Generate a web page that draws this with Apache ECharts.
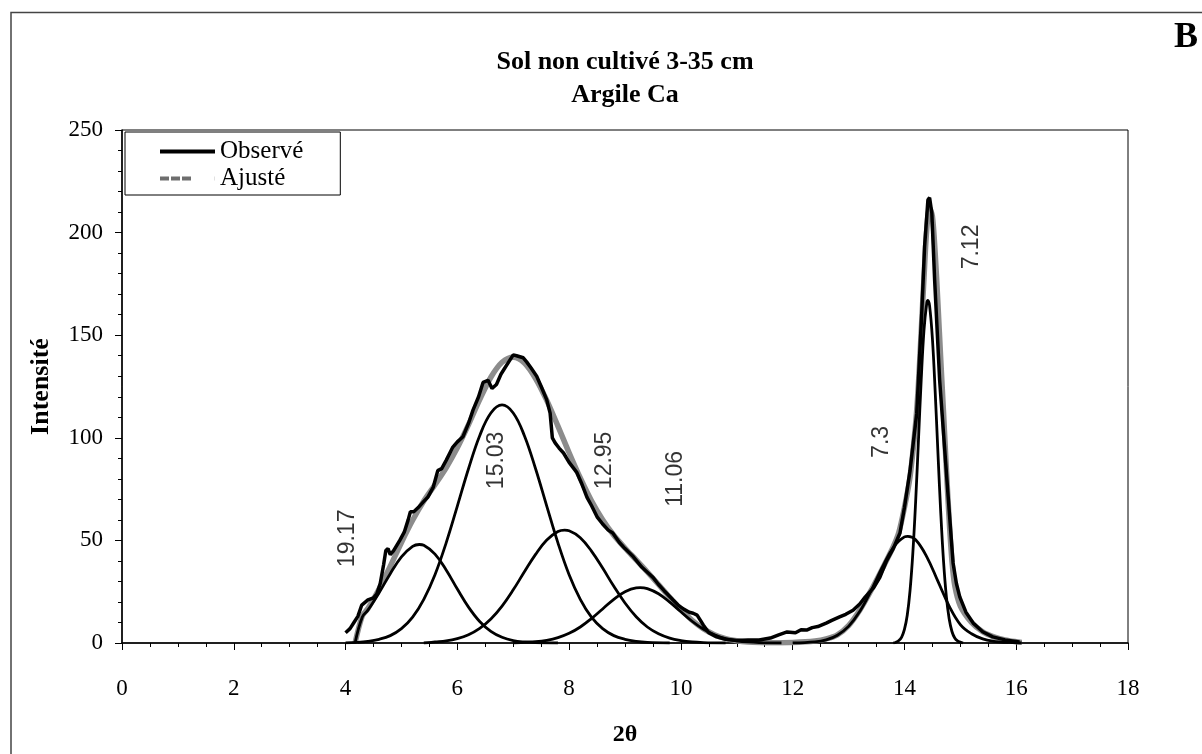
<!DOCTYPE html>
<html><head><meta charset="utf-8">
<script src="https://cdn.jsdelivr.net/npm/echarts@6/dist/echarts.min.js"></script>
<style>html,body{margin:0;padding:0;background:#fff}#c{width:1202px;height:754px}</style>
</head><body><div id="c"></div>
<script>
// ---- data (2θ, intensité) ----
const observed = [[4.0,5],[4.08,7],[4.15,10],[4.22,13],[4.29,18.5],[4.4,21],[4.5,22],[4.56,24],[4.62,29],[4.68,38],[4.72,45],[4.76,46],[4.8,43],[4.86,45],[4.97,50],[5.05,54],[5.12,60],[5.16,64],[5.22,64],[5.3,66],[5.4,69],[5.47,71],[5.57,76],[5.65,84],[5.72,85],[5.8,89],[5.92,95.5],[6.0,98],[6.1,100.5],[6.2,107],[6.28,113.5],[6.38,120],[6.46,127],[6.55,128],[6.62,124],[6.7,126],[6.78,131],[6.85,134],[6.92,137],[7.0,140.4],[7.06,140],[7.12,139.5],[7.18,139],[7.24,137],[7.32,134],[7.42,130],[7.5,125],[7.6,118.5],[7.66,112],[7.7,100],[7.75,97.5],[7.82,95],[7.9,92.6],[8.0,88],[8.14,83],[8.22,78],[8.32,71],[8.4,67],[8.5,61.5],[8.6,58],[8.7,55],[8.78,53.6],[8.9,49],[9.0,46],[9.15,42],[9.3,37],[9.4,34.5],[9.5,32],[9.6,28.5],[9.7,25.5],[9.86,21],[9.95,18.5],[10.05,16.5],[10.15,15],[10.22,14.5],[10.29,13.6],[10.35,11],[10.4,8.8],[10.5,5],[10.64,3],[10.8,1.8],[11.0,1.2],[11.2,1.5],[11.4,1.5],[11.6,2.4],[11.75,4],[11.9,5.4],[12.05,5],[12.15,6.5],[12.25,6.3],[12.35,7.5],[12.45,8],[12.6,9.7],[12.7,11],[12.84,12.7],[12.95,14],[13.08,16],[13.2,19],[13.3,22.5],[13.45,27],[13.56,32],[13.68,40],[13.8,46],[13.92,53.6],[14.0,66],[14.1,84],[14.22,112],[14.31,161],[14.36,193],[14.42,216],[14.45,217],[14.49,209.5],[14.54,177],[14.63,128],[14.76,79.5],[14.87,39],[14.93,29],[14.99,22.5],[15.1,15],[15.23,9.7],[15.4,5.5],[15.58,3],[15.8,1.5],[16.06,0.5]];

const fitted = [[4.17,0],[4.3,13.2],[4.4,16.8],[4.6,26.3],[4.8,37.4],[5.0,49.0],[5.2,59.8],[5.4,69.2],[5.6,77.1],[5.8,85.4],[6.0,95.1],[6.2,106.4],[6.4,118.6],[6.6,129.5],[6.8,136.8],[7.0,139.3],[7.2,136.5],[7.4,128.9],[7.6,118.2],[7.8,105.7],[8.0,92.7],[8.2,80.4],[8.4,69.3],[8.6,60.1],[8.8,52.5],[9.0,46.3],[9.2,40.5],[9.4,34.6],[9.6,28.5],[9.8,22.3],[10.0,16.4],[10.2,11.1],[10.4,7.0],[10.6,4.0],[10.8,2.1],[11.0,1.1],[11.2,0.5],[11.4,0.2],[11.6,0.1],[12.0,0.3],[12.4,1],[12.6,2],[12.8,4],[13.0,8.5],[13.2,16],[13.4,25.5],[13.6,36],[13.8,47],[13.9,54],[14.0,66],[14.1,81],[14.2,107],[14.25,126],[14.3,152],[14.35,178],[14.4,202],[14.45,212],[14.5,208],[14.55,190],[14.6,165],[14.65,138],[14.7,112],[14.75,85],[14.8,60],[14.85,40],[14.9,28],[15.0,18],[15.2,10],[15.4,5.5],[15.6,3],[15.8,1.5],[16.0,0.6],[16.1,0.3]];

const peak1917 = [[4.17,0],[4.3,12.7],[4.4,16.0],[4.6,24.5],[4.8,33.8],[5.0,42.0],[5.2,47.1],[5.32,48],[5.4,47.6],[5.6,43.3],[5.8,35.6],[6.0,26.3],[6.2,17.5],[6.4,10.5],[6.6,5.7],[6.8,2.8],[7.0,1.2],[7.2,0.5],[7.4,0.2],[7.8,0]];
const peak1503 = [[4.0,0.1],[4.2,0.3],[4.4,0.8],[4.6,1.8],[4.8,3.6],[5.0,7.0],[5.2,12.6],[5.4,21.3],[5.6,33.3],[5.8,48.8],[6.0,66.7],[6.2,84.9],[6.4,101.0],[6.6,112.1],[6.8,116],[7.0,112.1],[7.2,101.0],[7.4,84.9],[7.6,66.7],[7.8,48.8],[8.0,33.3],[8.2,21.3],[8.4,12.6],[8.6,7.0],[8.8,3.6],[9.0,1.8],[9.2,0.8],[9.4,0.3],[9.8,0]];
const peak1295 = [[5.4,0],[5.6,0.5],[5.8,1.0],[6.0,2.1],[6.2,4.0],[6.4,7.1],[6.6,11.7],[6.8,18.0],[7.0,25.9],[7.2,34.7],[7.4,43.2],[7.6,50.2],[7.8,54.3],[7.92,55],[8.0,54.7],[8.2,51.3],[8.4,44.8],[8.6,36.5],[8.8,27.6],[9.0,19.5],[9.2,12.8],[9.4,7.8],[9.6,4.5],[9.8,2.4],[10.0,1.2],[10.2,0.5],[10.4,0.2],[10.8,0]];
const peak1106 = [[7.0,0],[7.2,0.3],[7.4,0.6],[7.6,1.3],[7.8,2.6],[8.0,4.7],[8.2,7.8],[8.4,11.9],[8.6,16.6],[8.8,21.3],[9.0,25.0],[9.2,26.9],[9.27,27],[9.4,26.5],[9.6,24.0],[9.8,19.9],[10.0,15.2],[10.2,10.6],[10.4,6.8],[10.6,4.0],[10.8,2.1],[11.0,1.1],[11.2,0.5],[11.4,0.2],[11.8,0]];
const peak73 = [[12.0,0],[12.4,0.5],[12.6,1.5],[12.8,3.8],[13.0,8.1],[13.2,15.3],[13.4,25.3],[13.6,36.7],[13.8,46.5],[14.0,51.7],[14.06,52],[14.2,50.3],[14.4,42],[14.6,30],[14.8,18],[15.0,9],[15.2,4.5],[15.4,2],[15.6,0.8],[15.8,0.3],[16.1,0]];
const peak712 = [[13.8,0],[13.85,0.4],[13.9,1.2],[13.95,2.9],[14.0,6.6],[14.05,13.5],[14.1,25.5],[14.15,43.8],[14.2,68.7],[14.25,98.3],[14.3,128.3],[14.35,152.6],[14.4,165.8],[14.42,167],[14.45,164.3],[14.5,148.5],[14.55,122.5],[14.6,92.2],[14.65,63.3],[14.7,39.6],[14.75,22.6],[14.8,11.8],[14.85,5.6],[14.9,2.4],[14.95,1.0],[15.0,0.4],[15.05,0]];

const peakLabels = ['19.17','15.03','12.95','11.06','7.3','7.12'];
const peakLabelPos = [[4.03,51],[6.71,89],[8.64,89],[9.91,80],[13.6,98],[15.2,193]];

const titleLines = ['Sol non cultivé 3-35 cm','Argile Ca'];
const panelLetter = 'B';
const xName = '2θ', yName = 'Intensité';
const seriesNames = ['Observé','Ajusté'];

const serif = 'Liberation Serif, Times New Roman, serif';
const chart = echarts.init(document.getElementById('c'), null, {renderer:'canvas'});

const compStyle = {color:'#000', width:2.8};
const comps = [peak1917, peak1503, peak1295, peak1106, peak73, peak712].map((d,i)=>({
  type:'line', name:'comp'+i, data:d, smooth:0.4, symbol:'none', z:3,
  lineStyle:compStyle, itemStyle:{color:'#000'}, silent:true
}));

chart.setOption({
  animation:false,
  backgroundColor:'#fff',
  grid:{left:122, right:74, top:130, bottom:111, show:true, borderColor:'#000', borderWidth:1},
  xAxis:{type:'value', min:0, max:18, interval:2,
    name:xName, nameLocation:'middle', nameGap:80,
    nameTextStyle:{fontFamily:serif, fontWeight:'bold', fontSize:24, color:'#000'},
    axisLine:{show:true, onZero:false, lineStyle:{color:'#000', width:1.5}},
    axisTick:{show:true, inside:false, length:7, lineStyle:{color:'#000', width:1}},
    minorTick:{show:true, splitNumber:4, length:4, lineStyle:{color:'#000', width:1}},
    splitLine:{show:false},
    axisLabel:{margin:34, fontFamily:serif, fontSize:23, color:'#000'}},
  yAxis:{type:'value', min:0, max:250, interval:50,
    name:yName, nameLocation:'middle', nameGap:68, nameRotate:90,
    nameTextStyle:{fontFamily:serif, fontWeight:'bold', fontSize:26, color:'#000'},
    axisLine:{show:true, lineStyle:{color:'#000', width:1.5}},
    axisTick:{show:true, inside:false, length:7, lineStyle:{color:'#000', width:1}},
    minorTick:{show:true, splitNumber:5, length:4, lineStyle:{color:'#000', width:1}},
    splitLine:{show:false},
    axisLabel:{margin:19, fontFamily:serif, fontSize:23, color:'#000'}},
  legend:{
    left:125, top:132, orient:'vertical', itemGap:0,
    padding:[6,37,3,35], borderColor:'#000', borderWidth:1, borderRadius:0,
    backgroundColor:'#fff', itemWidth:55, itemHeight:4,
    textStyle:{fontFamily:serif, fontSize:25, color:'#000', lineHeight:27},
    data:[
      {name:seriesNames[0], icon:'path://M0,0h55v4h-55z'},
      {name:seriesNames[1], icon:'path://M0,0h9v4h-9z M11,0h9v4h-9z M22,0h9v4h-9z M54.8,0h0.2v4h-0.2z'}
    ]
  },
  graphic:[
    {type:'rect', shape:{x:11, y:12.5, width:1300, height:800}, style:{fill:'none', stroke:'#444', lineWidth:1.5}, silent:true},
    {type:'text', x:625, y:62, style:{text:titleLines[0], align:'center', verticalAlign:'middle', font:'bold 26px '+serif, fill:'#000'}},
    {type:'text', x:625, y:95, style:{text:titleLines[1], align:'center', verticalAlign:'middle', font:'bold 26px '+serif, fill:'#000'}},
    {type:'text', x:1186, y:38, style:{text:panelLetter, align:'center', verticalAlign:'middle', font:'bold 36px '+serif, fill:'#000'}}
  ],
  series:[
    {type:'line', name:seriesNames[1], data:fitted, smooth:0.3, symbol:'none', z:2,
      lineStyle:{color:'#8c8c8c', width:5.5}, itemStyle:{color:'#6e6e6e'}},
    {type:'line', name:seriesNames[0], data:observed, smooth:false, symbol:'none', z:4,
      lineStyle:{color:'#000', width:3.5}, itemStyle:{color:'#000'}},
    ...comps,
    {type:'scatter', name:'labels', symbolSize:0, silent:true, z:5,
      data:peakLabels.map((t,i)=>({name:t, value:peakLabelPos[i]})),
      label:{show:true, position:'inside', rotate:90, formatter:'{b}',
        fontFamily:'Liberation Sans, Arial, sans-serif', fontSize:23, color:'#000'}}
  ]
});
</script>
</body></html>
